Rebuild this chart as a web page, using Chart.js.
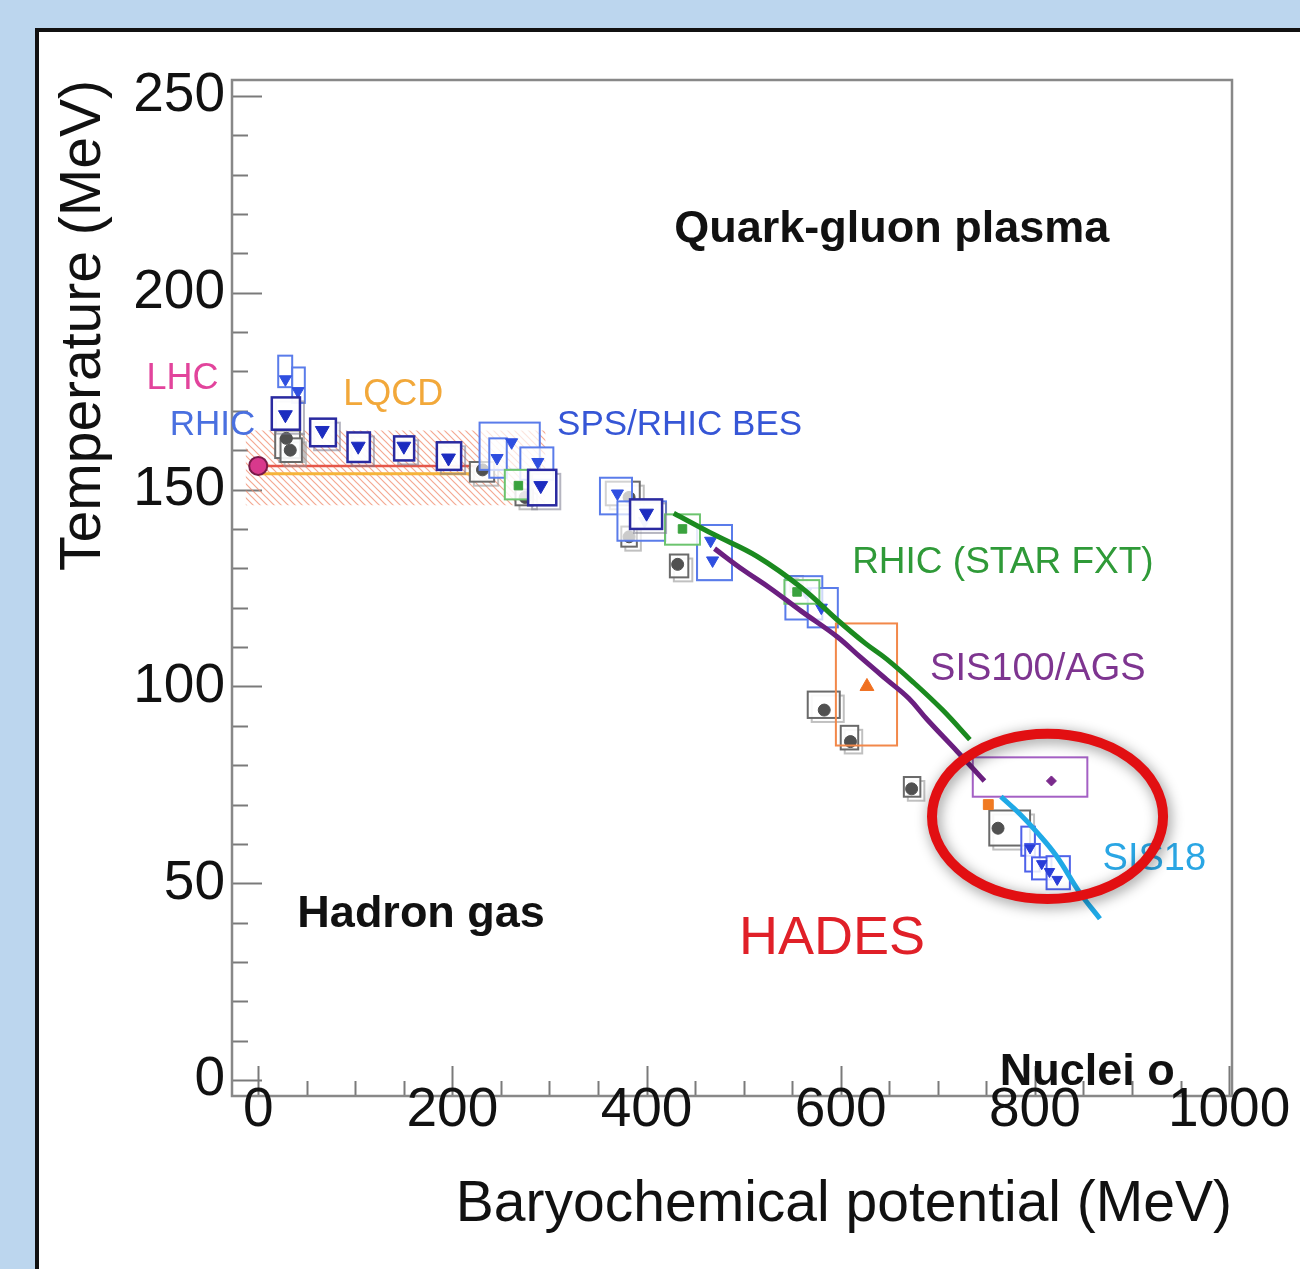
<!DOCTYPE html>
<html><head><meta charset="utf-8">
<script src="https://cdn.jsdelivr.net/npm/chart.js@4.4.0/dist/chart.umd.min.js"></script>
<style>
html,body{margin:0;padding:0;width:1300px;height:1269px;overflow:hidden;background:#bcd6ee;}
#panel{position:absolute;left:35px;top:28px;width:1320px;height:1320px;background:#fff;border:4px solid #111;box-sizing:border-box;}
#c{position:absolute;left:0;top:0;}
</style></head><body>
<div id="panel"></div>
<canvas id="c" width="1300" height="1269"></canvas>
<script>
// ---- axis ticks ----
const xTickValues = [0, 200, 400, 600, 800, 1000];
const yTickValues = [0, 50, 100, 150, 200, 250];

// ---- LQCD band and lines ----
const lqcdBandMu = [-13, 296];
const lqcdBandLowT = [146, 146];
const lqcdBandHighT = [165, 165];
const lqcdRedMu = [0, 232];
const lqcdRedT = [156, 156];
const lqcdOrangeMu = [0, 218];
const lqcdOrangeT = [154, 154];

// ---- LHC ----
const lhcMu = [0];
const lhcT = [156];

// ---- RHIC BES (light blue, down triangles) ----
const besMu   = [28, 41, 261, 246, 288, 370, 398, 466, 468, 564, 580];
const besT    = [178, 175, 162, 158, 157, 149, 142, 137, 132, 124, 120];
const besMuLo = [20.6, 35, 228, 238, 270, 352, 370, 452, 452, 543, 566];
const besMuHi = [35, 48, 290, 256, 304, 385, 420, 488, 488, 581, 597];
const besTLo  = [176, 172, 155, 153, 152.5, 143.7, 137, 127, 127, 117, 115];
const besTHi  = [184, 181, 167, 163, 160.7, 153, 147, 141, 141, 128, 125];

// ---- STAR (dark blue boxes) ----
const starMu   = [28, 66, 103, 150, 196, 291, 400];
const starT    = [169, 165, 161, 161, 158, 151, 144];
const starMuLo = [14, 53.5, 92, 140, 184, 278, 383];
const starMuHi = [43, 80, 115, 160.6, 209, 307, 416];
const starTLo  = [165.2, 161, 157, 157.4, 155, 146, 140];
const starTHi  = [173.4, 168, 164.5, 163.5, 162, 155, 147.5];

// ---- SIS18 HADES (blue) ----
const sisMu   = [795, 807, 815, 823];
const sisT    = [59, 55, 53, 51];
const sisMuLo = [786, 790, 797, 812];
const sisMuHi = [800, 805, 817, 836];
const sisTLo  = [57, 53, 51, 48.5];
const sisTHi  = [64.4, 60, 56.6, 56.9];

// ---- gray circles ----
const grayMu   = [29, 33, 231, 275, 382, 382, 432, 554, 583, 610, 673, 762];
const grayT    = [163, 160, 155, 148, 148, 138, 131, 126, 94, 86, 74, 64];
const grayMuLo = [17.5, 23, 218, 265, 358, 374, 424, 548, 566, 600, 665, 753];
const grayMuHi = [43, 45, 243, 283, 393, 390, 443, 561, 599, 618, 682, 795];
const grayTLo  = [158, 157, 152, 146, 146, 135.5, 127.7, 124, 92, 84, 72, 59.6];
const grayTHi  = [165, 163, 157, 150, 152, 140.6, 133.5, 128, 98.7, 90, 77, 68.5];

// ---- green squares ----
const greenMu   = [268, 437, 555];
const greenT    = [151, 140, 124];
const greenMuLo = [254, 419, 542];
const greenMuHi = [280, 455, 578];
const greenTLo  = [147.5, 136, 121];
const greenTHi  = [155, 143.7, 127];

// ---- orange ----
const orangeMu = [627];
const orangeT = [100];
const orangeMuLo = [595];
const orangeMuHi = [658];
const orangeTLo = [85];
const orangeTHi = [116];
const orangeSmallMu = [752];
const orangeSmallT = [70];

// ---- purple ----
const purpleMu = [817];
const purpleT = [76];
const purpleMuLo = [736];
const purpleMuHi = [854];
const purpleTLo = [72];
const purpleTHi = [82];

// ---- curves ----
const fxtCurveMu = [428, 470, 514, 560, 596, 625, 647, 675, 705, 733];
const fxtCurveT  = [144, 138.5, 133, 125, 117, 111, 107, 101, 94, 86.5];
const agsCurveMu = [470, 500, 527, 560, 596, 620, 647, 670, 689, 720, 748];
const agsCurveT  = [135, 129.5, 125, 119, 112.7, 107.5, 101.8, 97, 91.6, 83.5, 76];
const sisCurveMu = [765, 785, 802, 822, 846, 867];
const sisCurveT  = [72, 67.5, 63, 57, 47.7, 41];

// ---- HADES ellipse ----
const ellipseCenter = [813, 67];
const ellipseRadius = [119, 21];

// ---- helpers ----
const pts = (a, b) => a.map((v, i) => ({x: v, y: b[i]}));
const boxes = (lo, hi, tlo, thi) => lo.map((v, i) => ({muLo: v, muHi: hi[i], tLo: tlo[i], tHi: thi[i]}));

const FONT = "'Liberation Sans', Arial, Helvetica, sans-serif";

// hatch pattern for LQCD band
const pc = document.createElement('canvas');
pc.width = 7; pc.height = 7;
const pctx = pc.getContext('2d');
pctx.strokeStyle = 'rgba(240,140,110,0.75)';
pctx.lineWidth = 1.2;
pctx.beginPath();
pctx.moveTo(-1, -1); pctx.lineTo(8, 8);
pctx.moveTo(-1, 6); pctx.lineTo(1, 8);
pctx.moveTo(6, -1); pctx.lineTo(8, 1);
pctx.stroke();
const hatch = document.getElementById('c').getContext('2d').createPattern(pc, 'repeat');

const labels = [
  {text: 'Quark-gluon plasma', mu: 652.6, T: 216, color: '#111', font: 'bold 45px ' + FONT},
  {text: 'Hadron gas', mu: 167.8, T: 42.1, color: '#111', font: 'bold 45px ' + FONT},
  {text: 'HADES', mu: 591, T: 35.8, color: '#e02028', font: '54px ' + FONT},
  {text: 'Nuclei o', mu: 763.8, T: 2.0, color: '#111', font: 'bold 45px ' + FONT, align: 'left'},
  {text: 'LHC', mu: -78, T: 178, color: '#e2449c', font: '36px ' + FONT},
  {text: 'RHIC', mu: -47, T: 166.2, color: '#4a70e0', font: '35px ' + FONT},
  {text: 'LQCD', mu: 139, T: 173.9, color: '#f2a83a', font: '36px ' + FONT},
  {text: 'SPS/RHIC BES', mu: 434, T: 166.2, color: '#3656d6', font: '35px ' + FONT},
  {text: 'RHIC (STAR FXT)', mu: 767, T: 131.5, color: '#2f9a38', font: '37px ' + FONT},
  {text: 'SIS100/AGS', mu: 803, T: 104.3, color: '#7e3590', font: '38px ' + FONT},
  {text: 'SIS18', mu: 923, T: 56.1, color: '#2aa6e4', font: '38px ' + FONT}
];

const framePlugin = {
  id: 'frame',
  beforeDatasetsDraw(chart) {
    const {ctx, chartArea: a, scales: {x, y}} = chart;
    ctx.save();
    ctx.strokeStyle = '#7a7a7a';
    ctx.lineWidth = 2;
    for (let v = 0; v <= 250; v += 10) {
      const py = Math.round(y.getPixelForValue(v)) + 0.5;
      const len = v % 50 === 0 ? 30 : 16;
      ctx.beginPath(); ctx.moveTo(a.left, py); ctx.lineTo(a.left + len, py); ctx.stroke();
    }
    for (let v = 0; v <= 1000; v += 50) {
      const px = Math.round(x.getPixelForValue(v)) + 0.5;
      const len = v % 200 === 0 ? 30 : 15;
      ctx.beginPath(); ctx.moveTo(px, a.bottom); ctx.lineTo(px, a.bottom - len); ctx.stroke();
    }
    ctx.lineWidth = 2.5;
    ctx.strokeStyle = '#888';
    ctx.strokeRect(a.left, a.top, a.right - a.left, a.bottom - a.top);
    // x tick labels (drawn here so they are not clipped to the scale box)
    ctx.font = '55px ' + FONT;
    ctx.fillStyle = '#111';
    ctx.textAlign = 'center';
    ctx.textBaseline = 'middle';
    xTickValues.forEach(v => ctx.fillText(String(v), x.getPixelForValue(v), a.bottom + 15));
    ctx.restore();
  }
};

const boxPlugin = {
  id: 'sysboxes',
  beforeDatasetDraw(chart, args) {
    const ds = chart.data.datasets[args.index];
    if (!ds.sysBoxes) return;
    const {ctx, scales: {x, y}} = chart;
    ctx.save();
    ds.sysBoxes.forEach(b => {
      const x0 = x.getPixelForValue(b.muLo), x1 = x.getPixelForValue(b.muHi);
      const y0 = y.getPixelForValue(b.tHi), y1 = y.getPixelForValue(b.tLo);
      if (ds.boxShadow) {
        ctx.strokeStyle = ds.boxShadow; ctx.lineWidth = 2;
        ctx.strokeRect(x0 + 4, y0 + 4, x1 - x0, y1 - y0);
      }
      ctx.fillStyle = ds.boxFill || 'rgba(255,255,255,0.85)';
      ctx.fillRect(x0, y0, x1 - x0, y1 - y0);
      ctx.strokeStyle = ds.boxColor; ctx.lineWidth = ds.boxLineWidth || 2;
      ctx.strokeRect(x0, y0, x1 - x0, y1 - y0);
    });
    ctx.restore();
  }
};

const annotPlugin = {
  id: 'annot',
  afterDatasetsDraw(chart) {
    const {ctx, scales: {x, y}} = chart;
    ctx.save();
    labels.forEach(l => {
      ctx.font = l.font; ctx.fillStyle = l.color;
      ctx.textAlign = l.align || 'center'; ctx.textBaseline = 'middle';
      ctx.fillText(l.text, x.getPixelForValue(l.mu), y.getPixelForValue(l.T));
    });
    const cx = x.getPixelForValue(ellipseCenter[0]), cy = y.getPixelForValue(ellipseCenter[1]);
    const rx = Math.abs(x.getPixelForValue(ellipseCenter[0] + ellipseRadius[0]) - cx);
    const ry = Math.abs(y.getPixelForValue(ellipseCenter[1] + ellipseRadius[1]) - cy);
    ctx.shadowColor = 'rgba(0,0,0,0.45)'; ctx.shadowBlur = 14; ctx.shadowOffsetX = 2; ctx.shadowOffsetY = 3;
    ctx.strokeStyle = '#e20f12'; ctx.lineWidth = 10;
    ctx.beginPath(); ctx.ellipse(cx, cy, rx, ry, 0, 0, Math.PI * 2); ctx.stroke();
    ctx.restore();
  }
};

const markerSet = (label, mu, T, lo, hi, tlo, thi, style) => Object.assign({
  label, data: pts(mu, T), showLine: false,
  sysBoxes: boxes(lo, hi, tlo, thi)
}, style);

new Chart(document.getElementById('c'), {
  type: 'scatter',
  data: {
    datasets: [
      {label: 'LHC', data: pts(lhcMu, lhcT), pointRadius: 9, pointBackgroundColor: '#d8398c', pointBorderColor: '#7a1a48', pointBorderWidth: 2, order: 1},
      {label: 'SIS18 curve', data: pts(sisCurveMu, sisCurveT), showLine: true, pointRadius: 0, borderColor: '#1fa9e6', borderWidth: 5, tension: 0.4, order: 5},
      {label: 'AGS curve', data: pts(agsCurveMu, agsCurveT), showLine: true, pointRadius: 0, borderColor: '#6b1f80', borderWidth: 5, tension: 0.4, order: 6},
      {label: 'FXT curve', data: pts(fxtCurveMu, fxtCurveT), showLine: true, pointRadius: 0, borderColor: '#1b8a1f', borderWidth: 5, tension: 0.4, order: 7},
      markerSet('purple', purpleMu, purpleT, purpleMuLo, purpleMuHi, purpleTLo, purpleTHi,
        {pointStyle: 'rectRot', pointRadius: 5, pointBackgroundColor: '#7a2a8c', pointBorderColor: '#7a2a8c', boxColor: '#a460c4', boxFill: 'rgba(255,255,255,0.9)', order: 10}),
      {label: 'orange small', data: pts(orangeSmallMu, orangeSmallT), pointStyle: 'rect', pointRadius: 7, pointBackgroundColor: '#f07a22', pointBorderColor: '#f07a22', order: 11},
      markerSet('sis18', sisMu, sisT, sisMuLo, sisMuHi, sisTLo, sisTHi,
        {pointStyle: 'triangle', rotation: 180, pointRadius: 6, pointBackgroundColor: '#2a3ed8', pointBorderColor: '#2a3ed8', boxColor: '#4e62ea', order: 12}),
      markerSet('orange', orangeMu, orangeT, orangeMuLo, orangeMuHi, orangeTLo, orangeTHi,
        {pointStyle: 'triangle', pointRadius: 8, pointBackgroundColor: '#f07020', pointBorderColor: '#f07020', boxColor: '#f2884a', boxFill: 'rgba(255,255,255,0)', order: 13}),
      markerSet('star', starMu, starT, starMuLo, starMuHi, starTLo, starTHi,
        {pointStyle: 'triangle', rotation: 180, pointRadius: 8, pointBackgroundColor: '#1c2cc0', pointBorderColor: '#1c2cc0', boxColor: '#2a2aa0', boxLineWidth: 2.5, boxShadow: 'rgba(120,120,140,0.55)', boxFill: 'rgba(255,255,255,0.95)', order: 14}),
      markerSet('green', greenMu, greenT, greenMuLo, greenMuHi, greenTLo, greenTHi,
        {pointStyle: 'rect', pointRadius: 6, pointBackgroundColor: '#3aa23e', pointBorderColor: '#3aa23e', boxColor: '#6cc46e', order: 15}),
      markerSet('bes', besMu, besT, besMuLo, besMuHi, besTLo, besTHi,
        {pointStyle: 'triangle', rotation: 180, pointRadius: 7, pointBackgroundColor: '#2f4fe0', pointBorderColor: '#2f4fe0', boxColor: '#5a7cea', boxFill: 'rgba(255,255,255,0.7)', order: 16}),
      markerSet('gray', grayMu, grayT, grayMuLo, grayMuHi, grayTLo, grayTHi,
        {pointStyle: 'circle', pointRadius: 6, pointBackgroundColor: '#505050', pointBorderColor: '#505050', boxColor: '#6a6a6a', boxShadow: 'rgba(150,150,150,0.6)', boxFill: 'rgba(255,255,255,0.9)', order: 17}),
      {label: 'LQCD red', data: pts(lqcdRedMu, lqcdRedT), showLine: true, pointRadius: 0, borderColor: '#e5574a', borderWidth: 2.5, order: 20},
      {label: 'LQCD orange', data: pts(lqcdOrangeMu, lqcdOrangeT), showLine: true, pointRadius: 0, borderColor: '#f6b43a', borderWidth: 3, order: 21},
      {label: 'LQCD high', data: pts(lqcdBandMu, lqcdBandHighT), showLine: true, pointRadius: 0, borderWidth: 0, borderColor: 'rgba(0,0,0,0)', backgroundColor: hatch, fill: '+1', order: 30},
      {label: 'LQCD low', data: pts(lqcdBandMu, lqcdBandLowT), showLine: true, pointRadius: 0, borderWidth: 0, borderColor: 'rgba(0,0,0,0)', order: 31}
    ]
  },
  options: {
    responsive: false,
    animation: false,
    layout: {padding: {left: 0, top: 80, right: 68, bottom: 0}},
    plugins: {legend: {display: false}, tooltip: {enabled: false}},
    scales: {
      x: {
        type: 'linear', position: 'bottom', min: -27, max: 1003,
        grid: {display: false, drawTicks: false}, border: {display: false},
        afterBuildTicks: s => { s.ticks = xTickValues.map(v => ({value: v})); },
        afterFit: s => { s.height = 173; },
        ticks: {display: false},
        title: {display: true, text: 'Baryochemical potential (MeV)', align: 'end', color: '#111', font: {family: FONT, size: 57}, padding: {bottom: 30, top: 0}}
      },
      y: {
        type: 'linear', min: -4, max: 254,
        grid: {display: false, drawTicks: false}, border: {display: false},
        afterBuildTicks: s => { s.ticks = yTickValues.map(v => ({value: v})); },
        afterFit: s => { s.width = 232; },
        ticks: {font: {family: FONT, size: 55}, color: '#111', padding: 7, autoSkip: false},
        title: {display: true, text: 'Temperature (MeV)', align: 'end', color: '#111', font: {family: FONT, size: 57}, padding: {top: 50, bottom: 0}}
      }
    }
  },
  plugins: [framePlugin, boxPlugin, annotPlugin]
});
</script>
</body></html>
